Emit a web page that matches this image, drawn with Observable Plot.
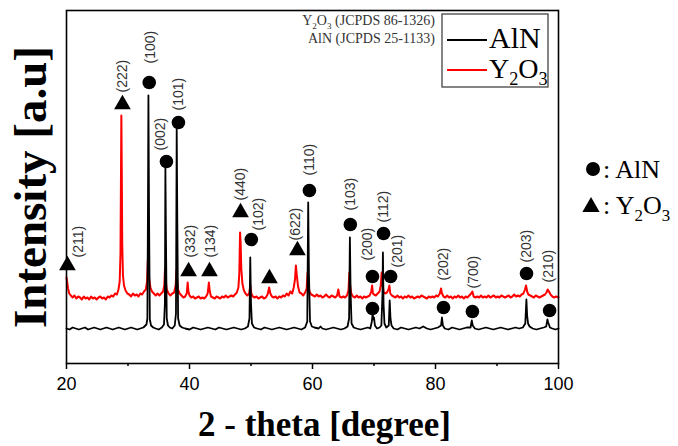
<!DOCTYPE html>
<html><head><meta charset="utf-8">
<script src="https://cdn.jsdelivr.net/npm/d3@7"></script>
<script src="https://cdn.jsdelivr.net/npm/@observablehq/plot@0.6"></script>
<style>body{margin:0;background:#fff;} svg{display:block}</style>
</head><body><div id="chart"></div>
<script>
// ---------- data (2-theta in degrees, intensity in arbitrary units) ----------
const xTicks = [20, 40, 60, 80, 100];
const xMinorTicks = [30, 50, 70, 90];

const blackTrace = [
[20.0,35],[20.5,34],[21.0,36],[21.5,35],[22.0,34],[22.5,35],[23.0,36],[23.5,34],[24.0,35],[24.5,36],
[25.0,35],[25.5,34],[26.0,35],[26.5,36],[27.0,35],[27.5,34],[28.0,35],[28.5,36],[29.0,35],[29.5,34],
[30.0,35],[30.5,36],[31.0,35],[31.5,34],[32.0,35],[32.5,36],[33.0,39],[33.15,45],[33.25,160],[33.32,268],
[33.42,150],[33.55,44],[33.75,38],[34.1,36],[34.5,35],[35.0,34],[35.5,36],[35.85,39],[36.0,60],[36.08,196],
[36.18,120],[36.3,45],[36.5,38],[36.8,36],[37.2,35],[37.6,38],[37.8,50],[37.92,235],[38.02,140],[38.15,45],
[38.4,38],[38.8,36],[39.3,35],[40.0,34],[40.6,36],[41.2,35],[41.8,34],[42.4,35],[43.0,36],[43.6,35],
[44.2,34],[44.8,36],[45.4,35],[46.0,34],[46.6,35],[47.2,36],[47.8,35],[48.4,34],[49.0,35],[49.5,37],
[49.75,45],[49.88,106],[50.0,60],[50.15,40],[50.5,36],[51.0,35],[51.6,34],[52.2,36],[52.8,35],[53.4,34],
[54.0,35],[54.6,36],[55.2,35],[55.8,34],[56.4,35],[57.0,36],[57.6,35],[58.2,34],[58.8,36],[59.15,42],
[59.3,161],[59.42,90],[59.6,42],[59.9,37],[60.3,36],[61.0,35],[61.3,37],[61.6,35],[62.2,34],[62.8,35],
[63.4,36],[64.0,35],[64.6,34],[65.2,35],[65.7,37],[65.95,45],[66.08,126],[66.2,70],[66.35,40],[66.7,36],
[67.2,35],[67.8,34],[68.4,35],[69.0,36],[69.4,35],[69.65,42],[69.78,50],[69.88,44],[70.0,46],[70.15,38],
[70.5,35],[70.9,36],[71.2,38],[71.38,70],[71.45,111],[71.55,60],[71.7,40],[72.0,36],[72.4,38],[72.55,63],
[72.68,45],[72.85,38],[73.2,35],[73.8,34],[74.4,36],[75.0,35],[75.6,34],[76.2,35],[76.8,36],[77.4,35],
[78.0,37],[78.6,35],[79.2,34],[79.8,35],[80.4,36],[80.9,38],[81.05,46],[81.2,38],[81.5,35],[82.1,34],
[82.7,36],[83.3,35],[83.9,34],[84.5,35],[85.1,36],[85.7,36],[85.9,43],[86.05,38],[86.4,35],[87.0,34],
[87.6,35],[88.2,36],[88.8,35],[89.4,34],[90.0,35],[90.6,36],[91.2,35],[91.8,34],[92.4,35],[93.0,36],
[93.6,35],[94.2,36],[94.6,40],[94.78,64],[94.9,48],[95.05,40],[95.3,37],[95.8,35],[96.4,34],[97.0,35],
[97.6,36],[98.0,37],[98.2,44],[98.32,41],[98.45,39],[98.6,36],[99.0,35],[99.5,34],[100.0,35]
];

const redTrace = [
[20.0,86],[20.1,82],[20.25,75],[20.45,70],[20.7,68],[21.0,66],[21.3,68],[21.6,65],[21.9,67],[22.2,66],
[22.5,64],[22.8,67],[23.1,65],[23.4,66],[23.7,64],[24.0,67],[24.3,65],[24.6,66],[24.9,64],[25.2,66],
[25.5,67],[25.8,65],[26.1,66],[26.4,64],[26.7,67],[27.0,66],[27.3,68],[27.6,67],[27.9,70],[28.2,69],
[28.45,74],[28.65,82],[28.78,110],[28.86,190],[28.92,248],[28.98,200],[29.06,120],[29.18,88],[29.35,78],[29.6,73],
[29.9,70],[30.2,69],[30.5,67],[30.8,70],[31.1,68],[31.4,69],[31.7,67],[32.0,70],[32.3,69],[32.6,72],
[32.9,74],[33.1,82],[33.22,103],[33.32,96],[33.45,84],[33.65,76],[33.9,72],[34.2,70],[34.5,68],[34.8,70],
[35.1,68],[35.4,70],[35.7,72],[35.9,78],[36.02,95],[36.12,84],[36.3,74],[36.6,70],[36.9,68],[37.2,70],
[37.5,71],[37.75,78],[37.88,93],[37.98,84],[38.15,74],[38.4,70],[38.7,68],[39.0,66],[39.3,67],[39.55,70],
[39.7,81],[39.82,72],[40.0,68],[40.3,66],[40.6,67],[40.9,65],[41.2,66],[41.5,67],[41.8,65],[42.1,66],
[42.4,65],[42.7,67],[42.95,70],[43.15,81],[43.3,72],[43.5,67],[43.8,66],[44.1,65],[44.4,67],[44.7,66],
[45.0,65],[45.3,67],[45.6,66],[45.9,68],[46.2,66],[46.5,67],[46.8,68],[47.1,67],[47.4,69],[47.7,71],
[47.95,76],[48.1,90],[48.22,131],[48.32,120],[48.42,95],[48.6,80],[48.85,73],[49.1,70],[49.4,68],[49.7,70],
[49.9,78],[50.05,70],[50.3,67],[50.6,66],[50.9,67],[51.2,65],[51.5,66],[51.8,67],[52.1,65],[52.4,66],
[52.7,69],[52.95,76],[53.15,70],[53.4,67],[53.7,66],[54.0,67],[54.3,65],[54.6,67],[54.9,66],[55.2,68],
[55.5,67],[55.8,70],[56.1,68],[56.4,72],[56.7,70],[56.95,76],[57.15,84],[57.3,98],[57.45,88],[57.65,77],
[57.9,71],[58.2,70],[58.5,68],[58.8,71],[59.05,75],[59.2,91],[59.32,80],[59.5,72],[59.8,69],[60.1,68],
[60.4,67],[60.7,69],[61.0,67],[61.3,68],[61.6,66],[61.9,67],[62.2,69],[62.5,67],[62.8,66],[63.1,68],
[63.4,67],[63.7,66],[64.0,68],[64.2,74],[64.4,67],[64.7,66],[65.0,67],[65.3,66],[65.6,68],[65.85,73],
[66.0,91],[66.12,78],[66.3,70],[66.6,67],[66.9,66],[67.2,68],[67.5,66],[67.8,67],[68.1,65],[68.4,67],
[68.7,66],[69.0,67],[69.3,68],[69.55,72],[69.7,78],[69.82,70],[70.0,69],[70.3,68],[70.6,70],[70.9,72],
[71.1,78],[71.25,91],[71.38,80],[71.55,72],[71.8,70],[72.1,71],[72.35,74],[72.5,78],[72.65,70],[72.9,68],
[73.2,67],[73.5,66],[73.8,68],[74.1,66],[74.4,67],[74.7,65],[75.0,67],[75.3,66],[75.6,68],[75.9,66],
[76.2,67],[76.5,65],[76.8,66],[77.1,67],[77.4,66],[77.7,68],[78.0,67],[78.3,66],[78.6,65],[78.9,67],
[79.2,66],[79.5,67],[79.8,66],[80.1,68],[80.4,67],[80.7,70],[80.9,75],[81.05,70],[81.3,67],[81.6,66],
[81.9,68],[82.2,66],[82.5,67],[82.8,65],[83.1,67],[83.4,66],[83.7,68],[84.0,66],[84.3,67],[84.6,65],
[84.9,67],[85.2,66],[85.5,68],[85.8,70],[86.0,72],[86.2,67],[86.5,66],[86.8,67],[87.1,66],[87.4,68],
[87.7,66],[88.0,67],[88.3,66],[88.6,68],[88.9,66],[89.2,67],[89.5,68],[89.8,66],[90.1,67],[90.4,66],
[90.7,68],[91.0,67],[91.3,66],[91.6,67],[91.9,68],[92.2,66],[92.5,67],[92.8,69],[93.1,67],[93.4,68],
[93.7,67],[94.0,69],[94.3,70],[94.55,74],[94.72,78],[94.9,72],[95.1,69],[95.4,68],[95.7,67],[96.0,66],
[96.3,68],[96.6,67],[96.9,66],[97.2,67],[97.5,68],[97.8,69],[98.05,71],[98.25,74],[98.45,72],[98.7,69],
[99.0,67],[99.3,66],[99.6,67],[100.0,66]
];

// AlN markers (circles) and Miller-index labels
const alnCircleTheta = [33.45, 36.25, 38.2, 50.05, 59.5, 66.15, 69.75, 71.55, 72.7, 94.8, 69.75, 81.3, 86.0, 98.55];
const alnCircleLevel = [281, 202, 241, 124, 173, 139, 87, 130, 87, 90, 55, 56, 52, 53];
const alnHkl = ["(100)","(002)","(101)","(102)","(110)","(103)","(200)","(112)","(201)","(202)","(700)","(203)","(210)"];
const alnLabelTheta = [33.65, 35.3, 38.2, 51.2, 59.5, 66.2, 68.95, 71.55, 73.8, 81.3, 86.2, 94.8, 98.4];
const alnLabelLevel = [300, 213, 253, 133, 188, 153, 103, 141, 96, 83, 75, 101, 81];

// Y2O3 markers (triangles) and labels
const y2o3TriTheta = [20.15, 29.1, 39.85, 43.25, 48.3, 53.0, 57.55];
const y2o3TriLevel = [98, 259, 92, 92, 151, 85, 113];
const y2o3Hkl = ["(211)","(222)","(332)","(134)","(440)","(622)"];
const y2o3LabelTheta = [21.95, 29.1, 40.15, 43.4, 48.3, 57.25];
const y2o3LabelLevel = [106, 271, 106, 106, 163, 123];

const seriesColors = ["#000000", "#ff0000"];

// ---------- build tables ----------
const circles = alnCircleTheta.map((t, i) => ({t, v: alnCircleLevel[i]}));
const triangles = y2o3TriTheta.map((t, i) => ({t, v: y2o3TriLevel[i]}));
const labels = alnHkl.map((s, i) => ({s, t: alnLabelTheta[i], v: alnLabelLevel[i]}))
  .concat(y2o3Hkl.map((s, i) => ({s, t: y2o3LabelTheta[i], v: y2o3LabelLevel[i]})));

const W = 678, H = 446, mL = 66, mR = 120, mT = 10, mB = 83;
const serif = "'Liberation Serif', 'Times New Roman', serif";
const sans = "'Liberation Sans', Arial, sans-serif";

const plot = Plot.plot({
  width: W, height: H,
  marginLeft: mL, marginRight: mR, marginTop: mT, marginBottom: mB,
  x: {domain: [20, 100]},
  y: {domain: [0, 353], axis: null},
  style: {background: "white", fontFamily: sans, color: "black"},
  marks: [
    Plot.line(redTrace, {x: d => d[0], y: d => d[1], stroke: seriesColors[1], strokeWidth: 2}),
    Plot.line(blackTrace, {x: d => d[0], y: d => d[1], stroke: seriesColors[0], strokeWidth: 1.8}),
    Plot.dot(circles, {x: "t", y: "v", r: 6.8, fill: "black", symbol: "circle"}),
    Plot.dot(triangles, {x: "t", y: "v", r: 6.2, fill: "black", symbol: "triangle"}),
    Plot.text(labels, {x: "t", y: "v", text: "s", rotate: -90, textAnchor: "start", lineAnchor: "middle",
      fontSize: 14, fill: "#333", fontFamily: sans}),
    Plot.axisX({ticks: xTicks, tickSize: 6, tickPadding: 8, fontSize: 18, label: null,
      tickFormat: d => String(d), strokeWidth: 1.5}),
    Plot.axisX({ticks: xMinorTicks, tickSize: 3, label: null, tickFormat: () => "", strokeWidth: 1.5}),
    Plot.frame({stroke: "black", strokeWidth: 1.6}),
    Plot.text(["Intensity [a.u]"], {text: d => d, frameAnchor: "left", dx: -36, rotate: -90,
      textAnchor: "middle", lineAnchor: "middle", fontSize: 47, fontWeight: "bold", fontFamily: serif}),
    Plot.text(["2 - theta [degree]"], {text: d => d, frameAnchor: "bottom", dx: 12, dy: 72,
      textAnchor: "middle", lineAnchor: "bottom", fontSize: 35, fontWeight: "bold", fontFamily: serif})
  ]
});
document.getElementById("chart").appendChild(plot);

// ---------- legends & annotations (text with subscripts) ----------
const svg = d3.select(plot);
function rich(x, y, parts, size, opts = {}) {
  const t = svg.append("text").attr("x", x).attr("y", y)
    .attr("font-family", serif).attr("font-size", size)
    .attr("fill", opts.fill || "black").attr("text-anchor", opts.anchor || "start");
  let down = false;
  parts.forEach(p => {
    const isSub = /^[0-9]$/.test(p);
    const ts = t.append("tspan").text(p).attr("font-size", isSub ? size * 0.65 : size);
    if (isSub && !down) { ts.attr("dy", size * 0.25); down = true; }
    else if (!isSub && down) { ts.attr("dy", -size * 0.25); down = false; }
  });
  return t;
}
const fx1 = W - mR;

// inner legend box
svg.append("rect").attr("x", 442).attr("y", 14).attr("width", 106).attr("height", 73)
  .attr("fill", "white").attr("stroke", "#444").attr("stroke-width", 1.3);
svg.append("line").attr("x1", 447).attr("x2", 487).attr("y1", 40).attr("y2", 40)
  .attr("stroke", seriesColors[0]).attr("stroke-width", 2.2);
svg.append("line").attr("x1", 447).attr("x2", 487).attr("y1", 70).attr("y2", 70)
  .attr("stroke", seriesColors[1]).attr("stroke-width", 2.2);
rich(489, 48, ["AlN"], 30);
rich(489, 78, ["Y", "2", "O", "3"], 28);

// reference cards
rich(435, 25, ["Y", "2", "O", "3", " (JCPDS 86-1326)"], 14, {anchor: "end", fill: "#333"});
rich(435, 43, ["AlN (JCPDS 25-1133)"], 14, {anchor: "end", fill: "#333"});

// symbol legend outside
svg.append("path").attr("transform", `translate(${fx1 + 35},169)`)
  .attr("d", d3.symbol(d3.symbolCircle, Math.PI * 7 * 7)()).attr("fill", "black");
svg.append("path").attr("transform", `translate(${fx1 + 33},207)`)
  .attr("d", d3.symbol(d3.symbolTriangle, Math.PI * 6.4 * 6.4)()).attr("fill", "black");
rich(fx1 + 45, 178, [": AlN"], 26);
rich(fx1 + 45, 214, [": Y", "2", "O", "3"], 26);
</script></body></html>
